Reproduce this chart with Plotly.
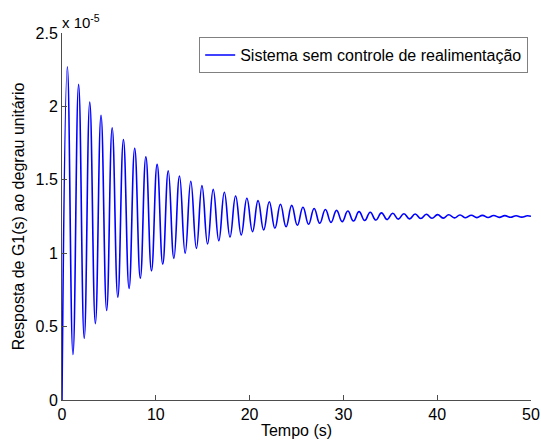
import plotly.graph_objects as go

# Step response of G1(s): extrema (values in units of 1e-5)
peak_t = [0.57, 1.77, 2.96, 4.16, 5.35, 6.55, 7.75, 8.94, 10.14, 11.33, 12.53, 13.73,
          14.92, 16.12, 17.31, 18.51, 19.71, 20.90, 22.10, 23.29, 24.49, 25.69, 26.88,
          28.08, 29.27, 30.47, 31.67, 32.86, 34.06, 35.25, 36.45, 37.65, 38.84, 40.04,
          41.23, 42.43, 43.63, 44.82, 46.02, 47.21, 48.41, 49.61]
peak_v = [2.27, 2.15, 2.03, 1.94, 1.855, 1.775, 1.715, 1.657, 1.605, 1.562, 1.526, 1.49,
          1.46, 1.435, 1.415, 1.39, 1.374, 1.358, 1.35, 1.333, 1.326, 1.313, 1.305,
          1.298, 1.292, 1.287, 1.283, 1.279, 1.275, 1.272, 1.269, 1.267, 1.265, 1.263,
          1.262, 1.260, 1.259, 1.258, 1.257, 1.256, 1.2555, 1.255]
trough_t = [1.17, 2.37, 3.56, 4.76, 5.95, 7.15, 8.35, 9.54, 10.74, 11.93, 13.13, 14.33,
            15.52, 16.72, 17.91, 19.11, 20.31, 21.50, 22.70, 23.89, 25.09, 26.29, 27.48,
            28.68, 29.87, 31.07, 32.27, 33.46, 34.66, 35.85, 37.05, 38.25, 39.44, 40.64,
            41.83, 43.03, 44.23, 45.42, 46.62, 47.81, 49.01]
trough_v = [0.31, 0.42, 0.52, 0.61, 0.70, 0.76, 0.83, 0.88, 0.925, 0.965, 1.0, 1.033,
            1.063, 1.085, 1.11, 1.124, 1.147, 1.158, 1.17, 1.18, 1.19, 1.197, 1.204,
            1.210, 1.215, 1.219, 1.223, 1.226, 1.229, 1.232, 1.234, 1.236, 1.238, 1.239,
            1.2405, 1.2416, 1.2426, 1.2435, 1.2443, 1.245, 1.2456]
start_t, start_v = 0.0, 0.0
end_t, end_v = 50.0, 1.251

y_ticks = [0, 0.5, 1, 1.5, 2, 2.5]
y_tick_labels = ["0", "0.5", "1", "1.5", "2", "2.5"]
x_ticks = [0, 10, 20, 30, 40, 50]
scale = 1e-5

# interleave extrema
t = [start_t]
v = [start_v]
for i in range(len(peak_t)):
    t.append(peak_t[i]); v.append(peak_v[i])
    if i < len(trough_t):
        t.append(trough_t[i]); v.append(trough_v[i])
t.append(end_t); v.append(end_v)
y = [val * scale for val in v]

fig = go.Figure()
fig.add_trace(go.Scatter(
    x=t, y=y, mode="lines",
    line=dict(color="#0000ff", width=1.6, shape="spline", smoothing=1.3),
    name="Sistema sem controle de realimentação",
))

axis_color = "#4d4d4d"
fig.update_layout(
    width=541, height=443,
    margin=dict(l=62, r=10, t=33, b=43, autoexpand=False),
    paper_bgcolor="white", plot_bgcolor="white",
    font=dict(family="Liberation Sans, Arial, sans-serif", size=16, color="black"),
    showlegend=True,
    legend=dict(
        x=0.994, y=0.989, xanchor="right", yanchor="top",
        bgcolor="white", bordercolor="#808080", borderwidth=1,
        font=dict(size=16), itemwidth=30,
        tracegroupgap=0,
    ),
    xaxis=dict(
        range=[0, 50], tickvals=x_ticks, ticks="inside", ticklen=5,
        tickcolor=axis_color, showline=True, linecolor=axis_color, linewidth=1,
        showgrid=False, zeroline=False, mirror=False, automargin=False,
        tickfont=dict(size=16),
        title=dict(text="Tempo (s)", standoff=2, font=dict(size=16)),
    ),
    yaxis=dict(
        range=[0, 2.5 * scale], tickvals=[v_ * scale for v_ in y_ticks],
        ticktext=y_tick_labels, ticks="inside", ticklen=5,
        tickcolor=axis_color, showline=True, linecolor=axis_color, linewidth=1,
        showgrid=False, zeroline=False, mirror=False, automargin=False,
        tickfont=dict(size=16),
        title=dict(text="Resposta de G1(s) ao degrau unitário", standoff=6, font=dict(size=16)),
    ),
    annotations=[dict(
        text="x 10<sup>-5</sup>", xref="paper", yref="paper", x=0, y=1,
        xanchor="left", yanchor="bottom", showarrow=False, font=dict(size=15),
        xshift=-2, yshift=0,
    )],
)

fig.write_html("out.html", config={"displayModeBar": False},
               post_script="document.body.style.margin='0px';")
